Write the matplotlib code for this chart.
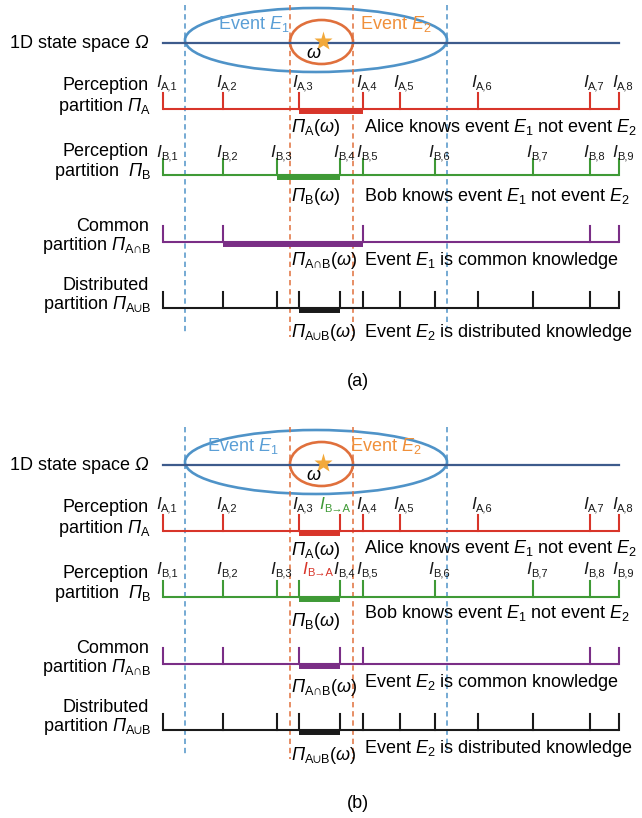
import matplotlib.pyplot as plt
from matplotlib.patches import Ellipse

plt.rcParams['font.family'] = ['Liberation Sans', 'DejaVu Sans']
plt.rcParams['mathtext.fontset'] = 'custom'
plt.rcParams['mathtext.rm'] = 'Liberation Sans'
plt.rcParams['mathtext.it'] = 'Liberation Sans:italic'
plt.rcParams['mathtext.sf'] = 'Liberation Sans:italic'   # italic capital Greek (Pi, Omega)
plt.rcParams['mathtext.fallback'] = 'stixsans'

# positions along the 1D state space
space = [163, 619]
omega = 323
event_E1 = [185, 447]
event_E2 = [290, 353]
cuts_A = [163, 223, 299, 363, 400, 478, 590, 619]
cuts_B = [163, 223, 277, 340, 363, 435, 533, 590, 619]
names_A = ['A,1', 'A,2', 'A,3', 'A,4', 'A,5', 'A,6', 'A,7', 'A,8']
names_B = ['B,1', 'B,2', 'B,3', 'B,4', 'B,5', 'B,6', 'B,7', 'B,8', 'B,9']
# (b): Bob passes his cut I_B,4 to Alice, Alice passes I_A,3 to Bob
told_A = 340
told_B = 299

row_names = [('Perception', r'partition $\mathsf{Π}_\mathrm{A}$'),
             ('Perception', r'partition  $\mathsf{Π}_\mathrm{B}$'),
             ('Common', r'partition $\mathsf{Π}_\mathrm{A∩B}$'),
             ('Distributed', r'partition $\mathsf{Π}_\mathrm{A∪B}$')]
cell_names = [r'$\mathsf{Π}_\mathrm{A}(\omega)$', r'$\mathsf{Π}_\mathrm{B}(\omega)$',
              r'$\mathsf{Π}_\mathrm{A∩B}(\omega)$', r'$\mathsf{Π}_\mathrm{A∪B}(\omega)$']
know_a = ['Alice knows event $E_1$ not event $E_2$', 'Bob knows event $E_1$ not event $E_2$',
          'Event $E_1$ is common knowledge', 'Event $E_2$ is distributed knowledge']
know_b = ['Alice knows event $E_1$ not event $E_2$', 'Bob knows event $E_1$ not event $E_2$',
          'Event $E_2$ is common knowledge', 'Event $E_2$ is distributed knowledge']

c_space = '#3d5b8c'
c_e1 = '#4f93c8'
c_e1txt = '#5b9fd6'
c_e2 = '#e0703c'
c_e2txt = '#f0903a'
c_star = '#f2a93b'
row_colors = ['#d8352a', '#3f9a36', '#7a2e86', '#1a1a1a']

FS = 13


def omega_cell(cuts):
    lo = max(c for c in cuts if c <= omega)
    hi = min(c for c in cuts if c > omega)
    return lo, hi


def I_label(ax, x, y, sub, color='#1a1a1a'):
    ax.text(x, y, 'I', fontsize=12.5, style='italic', color=color, va='baseline')
    ax.text(x + 5, y + 2.5, sub, fontsize=8, color=color, va='baseline')


def draw_panel(ax, dy, A, B, know, ev_x, lab_B_y, know_y, cell_y, letter, extras):
    common = sorted(set(A) & set(B))
    union = sorted(set(A) | set(B))
    # dashed guides at the event borders
    for x, c, yb in [(event_E1[0], c_e1, 335), (event_E1[1], c_e1, 328),
                     (event_E2[0], c_e2, 337), (event_E2[1], c_e2, 337)]:
        ax.plot([x, x], [dy + 5, dy + yb], color=c, lw=1.1, ls=(0, (3.5, 2.5)))
    # state space with events
    ax.plot(space, [dy + 43, dy + 43], color=c_space, lw=1.6)
    ax.add_patch(Ellipse(((event_E1[0] + event_E1[1]) / 2, dy + 40),
                         event_E1[1] - event_E1[0], 64, fill=False, ec=c_e1, lw=1.9))
    ax.add_patch(Ellipse(((event_E2[0] + event_E2[1]) / 2, dy + 42),
                         event_E2[1] - event_E2[0], 44, fill=False, ec=c_e2, lw=1.9))
    ax.plot(omega, dy + 41, marker='*', ms=14, color=c_star, mec='none')
    ax.text(314, dy + 53, r'$\omega$', fontsize=FS, ha='center', va='center')
    ax.text(ev_x[0], dy + 29, 'Event $E_1$', fontsize=FS, color=c_e1txt, va='baseline')
    ax.text(ev_x[1], dy + 29, 'Event $E_2$', fontsize=FS, color=c_e2txt, va='baseline')
    ax.text(149, dy + 48, r'1D state space $\mathsf{Ω}$', fontsize=FS, ha='right', va='baseline')

    rows = [A, B, common, union]
    line_y = [109, 175, 242, 308]
    name_y = [(90, 111), (156, 176), (231, 250), (290, 309)]
    for i, cuts in enumerate(rows):
        y = dy + line_y[i]
        col = row_colors[i]
        ax.plot(space, [y, y], color=col, lw=1.5, solid_capstyle='butt')
        for c in cuts:
            ax.plot([c, c], [y, y - 16], color=col, lw=1.5, solid_capstyle='projecting')
        lo, hi = omega_cell(cuts)
        ax.plot([lo, hi], [y + 2, y + 2], color=col, lw=4.3, solid_capstyle='butt')
        ax.text(149, dy + name_y[i][0], row_names[i][0], fontsize=FS, ha='right', va='baseline')
        ax.text(151, dy + name_y[i][1], row_names[i][1], fontsize=FS, ha='right', va='baseline')
        ax.text(291, dy + cell_y[i], cell_names[i], fontsize=FS, va='baseline')
        ax.text(364, dy + know_y[i], know[i], fontsize=FS, va='baseline')

    for c, n in zip(cuts_A, names_A):
        I_label(ax, c - 7, dy + 87, n)
    for c, n in zip(cuts_B, names_B):
        I_label(ax, c - 7, dy + lab_B_y, n)
    for x, yy, col in extras:
        I_label(ax, x, dy + yy, 'B→A', col)

    ax.text(358, dy + 381, letter, fontsize=FS, ha='center', va='center')


fig = plt.figure(figsize=(6.42, 8.18), dpi=100)
ax = fig.add_axes([0, 0, 1, 1])
ax.set_xlim(0, 642)
ax.set_ylim(818, 0)
ax.axis('off')

draw_panel(ax, 0, cuts_A, cuts_B, know_a, (218, 360), 157,
           [132, 201, 265, 337], [132, 201, 265, 337], '(a)', [])
draw_panel(ax, 422, cuts_A + [told_A], cuts_B + [told_B], know_b, (207, 350), 152,
           [131, 196, 265, 331], [133, 204, 270, 338], '(b)',
           [(told_A - 21, 87, row_colors[1]), (told_B + 3, 152, row_colors[0])])

fig.savefig('out.png', dpi=100)
